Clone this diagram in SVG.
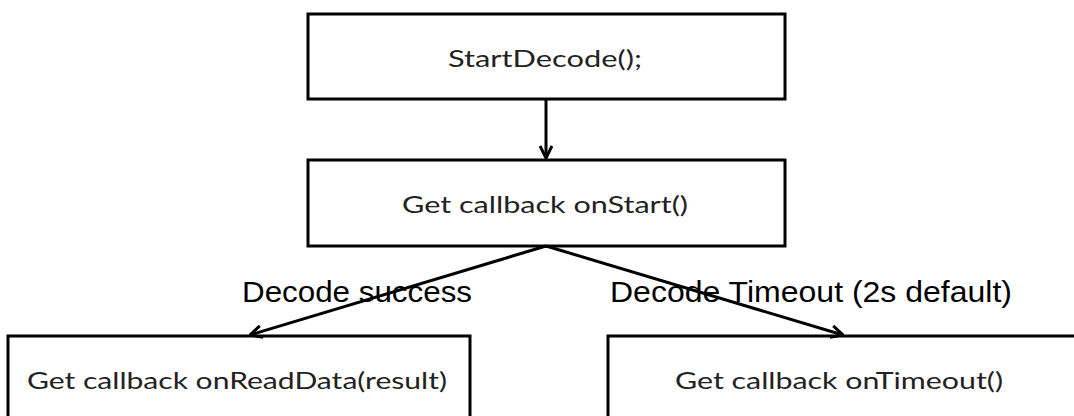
<svg xmlns="http://www.w3.org/2000/svg" width="1074" height="416" viewBox="0 0 1074 416">
<style>
.box{fill:#fff;stroke:#000;stroke-width:3}
.t{font-family:Lato,"Open Sans",sans-serif;font-size:24px;fill:#222;text-anchor:start}
.lbl{font-family:"Liberation Sans",Arial,sans-serif;font-size:29px;fill:#000}
.c{fill:none;stroke:#000;stroke-width:3}
</style>
<defs>
<marker id="ah" viewBox="0 0 14 14" refX="13" refY="7" markerWidth="14" markerHeight="14" markerUnits="userSpaceOnUse" orient="auto">
<polyline points="1,1 13,7 1,13" fill="none" stroke="#000" stroke-width="3"/>
</marker>
</defs>
<rect width="1074" height="416" fill="#fff"/>
<g id="n1"><rect class="box" x="308" y="14" width="477" height="85"/><text class="t" x="448" y="67" textLength="194" lengthAdjust="spacingAndGlyphs">StartDecode();</text></g>
<g id="n2"><rect class="box" x="308" y="160" width="477" height="86"/><text class="t" x="402" y="213" textLength="286" lengthAdjust="spacingAndGlyphs">Get callback onStart()</text></g>
<g id="n3"><rect class="box" x="8" y="336" width="462" height="100"/><text class="t" x="27" y="389" textLength="420" lengthAdjust="spacingAndGlyphs">Get callback onReadData(result)</text></g>
<g id="n4"><rect class="box" x="608" y="336" width="500" height="100"/><text class="t" x="675" y="389" textLength="328" lengthAdjust="spacingAndGlyphs">Get callback onTimeout()</text></g>
<g id="labels">
<text class="lbl" x="242" y="302" textLength="230" lengthAdjust="spacingAndGlyphs">Decode success</text>
<text class="lbl" x="610" y="302" textLength="402" lengthAdjust="spacingAndGlyphs">Decode Timeout (2s default)</text>
</g>
<g id="connectors">
<line class="c" x1="546" y1="99" x2="546" y2="158" marker-end="url(#ah)"/>
<line class="c" x1="546" y1="246" x2="250" y2="335" marker-end="url(#ah)"/>
<line class="c" x1="546" y1="246" x2="843" y2="335" marker-end="url(#ah)"/>
</g>
</svg>
